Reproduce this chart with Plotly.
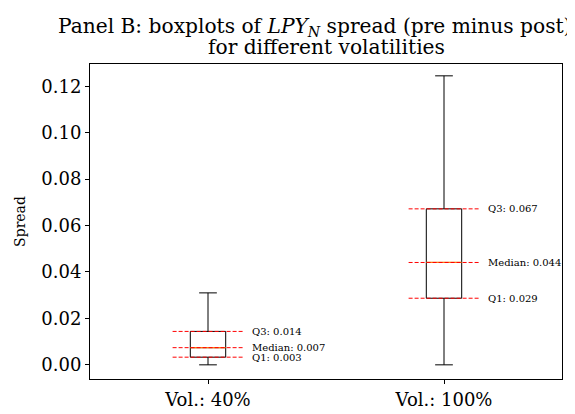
import plotly.graph_objects as go

categories = ["Vol.: 40%", "Vol.: 100%"]
positions = [1, 2]
lower_whisker = [0.0, 0.0]
q1_values = [0.0033, 0.0287]
median_values = [0.0074, 0.0441]
q3_values = [0.0144, 0.0672]
upper_whisker = [0.0310, 0.1245]
y_ticks = [0.00, 0.02, 0.04, 0.06, 0.08, 0.10, 0.12]
title_lines = ["Panel B: boxplots of <i>LPY</i><sub><i>N</i></sub> spread (pre minus post)",
               "for different volatilities"]

SERIF = "DejaVu Serif"
box_w = 0.15
PLOT_TOP, PLOT_BOTTOM = 56, 384
plot_h = PLOT_BOTTOM - PLOT_TOP

fig = go.Figure()
for i, pos in enumerate(positions):
    fig.add_trace(go.Box(
        x=[pos], q1=[q1_values[i]], median=[median_values[i]], q3=[q3_values[i]],
        lowerfence=[lower_whisker[i]], upperfence=[upper_whisker[i]],
        width=box_w, whiskerwidth=0.5, fillcolor="rgba(0,0,0,0)",
        line=dict(color="black", width=1), boxpoints=False, showlegend=False,
        hoverinfo="skip",
    ))
    fig.add_trace(go.Scatter(
        x=[pos - box_w / 2, pos + box_w / 2], y=[median_values[i]] * 2,
        mode="lines", line=dict(color="#ff7f0e", width=1.2), showlegend=False, hoverinfo="skip",
    ))
    for name, val in (("Q1", q1_values[i]), ("Median", median_values[i]), ("Q3", q3_values[i])):
        fig.add_trace(go.Scatter(
            x=[pos - 0.15, pos + 0.15], y=[val, val], mode="lines",
            line=dict(color="#ff0000", width=1, dash="4px,2px"), showlegend=False, hoverinfo="skip",
        ))
        fig.add_annotation(
            x=pos + 0.18, y=val, xref="x", yref="y", text=f"{name}: {val:.3f}",
            showarrow=False, xanchor="left", yanchor="middle",
            font=dict(family=SERIF, size=10, color="black"),
        )

# title as two centred lines above the plot
for line, x_pos, y_px in zip(title_lines, (0.477, 0.5), (17, 38)):
    fig.add_annotation(
        x=x_pos, y=1 + (PLOT_TOP - y_px) / plot_h, xref="paper", yref="paper",
        text=line, showarrow=False, xanchor="center", yanchor="middle",
        font=dict(family=SERIF, size=20.2, color="black"),
    )

fig.update_layout(
    width=575, height=414,
    margin=dict(l=76, r=21, t=PLOT_TOP, b=414 - PLOT_BOTTOM),
    paper_bgcolor="white", plot_bgcolor="white",
    font=dict(family=SERIF, color="black"),
    xaxis=dict(
        range=[0.5, 2.5], tickvals=positions, ticktext=categories,
        showline=True, linecolor="black", linewidth=1, mirror=True,
        ticks="outside", ticklen=4, tickcolor="black", showgrid=False, zeroline=False,
        tickfont=dict(family=SERIF, size=18, color="black"),
    ),
    yaxis=dict(
        range=[-0.0061, 0.1296], tickvals=y_ticks, ticktext=[f"{v:.2f}" for v in y_ticks],
        showline=True, linecolor="black", linewidth=1, mirror=True,
        ticks="outside", ticklen=4, tickcolor="black", showgrid=False, zeroline=False,
        tickfont=dict(family=SERIF, size=18, color="black"),
        title=dict(text="Spread", font=dict(family=SERIF, size=14, color="black"), standoff=12),
    ),
)

fig.write_html("out.html")
